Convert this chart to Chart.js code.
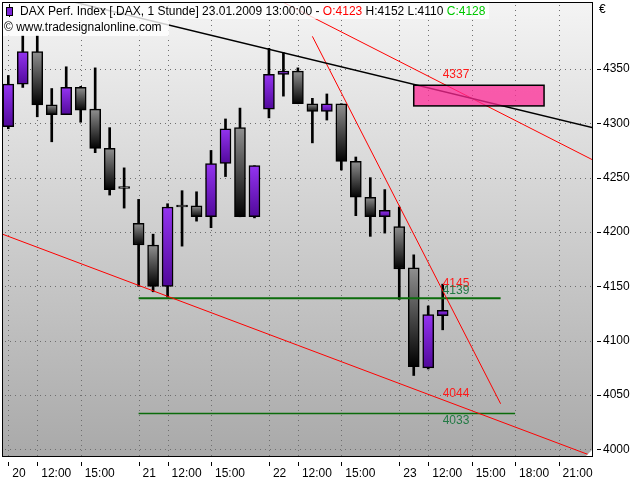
<!DOCTYPE html>
<html><head><meta charset="utf-8">
<script src="https://cdn.jsdelivr.net/npm/chart.js@4/dist/chart.umd.min.js"></script>
<style>html,body{margin:0;padding:0;background:#fff}#wrap{width:640px;height:480px}</style>
</head><body><div id="wrap"><canvas id="c" width="640" height="480"></canvas></div>
<script>
// ---- data ----
const candleIndex = [0,1,2,3,4,5,6,7,8,9,10,11,12,13,14,15,16,17,18,19,20,21,22,23,24,25,26,27,28,29,30];
const openVals  = [4297,4336,4366,4317,4308,4333,4313,4277,4240,4208,4188,4150,4223,4224,4214,4263,4296,4214,4313,4345,4348,4318,4311,4318,4265,4232,4214,4205,4167,4075,4123];
const highVals  = [4344,4381,4381,4332,4352,4334,4351,4296,4259,4230,4198,4226,4238,4237,4275,4304,4314,4261,4369,4365,4351,4323,4327,4318,4269,4250,4239,4223,4179,4132,4152];
const lowVals   = [4295,4333,4306,4283,4308,4301,4273,4234,4222,4150,4145,4140,4187,4210,4204,4251,4214,4213,4305,4325,4318,4282,4303,4257,4215,4196,4199,4138,4068,4074,4110];
const closeVals = [4336,4366,4317,4308,4333,4312,4277,4239,4240,4188,4150,4223,4223,4214,4263,4295,4214,4261,4345,4348,4318,4311,4318,4265,4232,4214,4220,4166,4076,4124,4128];

const timeTickIndex  = [0,2,5,9,11,14,18,20,23,27,29,32,35,38];
const timeTickLabels = ['20','12:00','15:00','21','12:00','15:00','22','12:00','15:00','23','12:00','15:00','18:00','21:00'];
const priceTicks = [4000,4050,4100,4150,4200,4250,4300,4350];

const blackTrendX = [2, 41];      const blackTrendY = [4419.7, 4294];
const steepRedX   = [21, 34];     const steepRedY   = [4380, 4042];
const upperRedX   = [18, 41];     const upperRedY   = [4418, 4262];
const lowerRedX   = [-0.5, 40.5]; const lowerRedY   = [4198.5, 3993];
const greenHighX  = [9, 34];      const greenHighY  = [4139, 4139];
const greenLowX   = [9, 35];      const greenLowY   = [4033, 4033];

const zoneX = [28, 37];  const zoneY = [4316, 4335];

const levelLabelX = 30;
const levelLabelValues = [4145, 4139, 4044, 4033, 4337];

const headerMain = 'DAX Perf. Index [.DAX, 1 Stunde] 23.01.2009 13:00:00 - ';
const headerO = 'O:4123', headerHL = ' H:4152 L:4110 ', headerC = 'C:4128';
const copyright = '\u00A9 www.tradesignalonline.com';

// ---- styles ----
const FONT = '"Liberation Sans", Arial, sans-serif';
const levelLabelStyle = [
  {color:'#ff1a1a', place:'above'},
  {color:'#237a45', place:'above'},
  {color:'#ff1a1a', place:'above'},
  {color:'#237a45', place:'below'},
  {color:'#ff1a1a', place:'above'}
];

function pts(xs, ys){ return xs.map((x,i)=>({x:x, y:ys[i]})); }

function bodyFill(c){
  if (c.type !== 'data') return '#888';
  const chart = c.chart, i = c.dataIndex, y = chart.scales.y;
  if (!y) return '#888';
  const o = openVals[i], cl = closeVals[i];
  const top = y.getPixelForValue(Math.max(o,cl)), bot = y.getPixelForValue(Math.min(o,cl));
  if (!isFinite(top) || !isFinite(bot)) return '#888';
  const g = chart.ctx.createLinearGradient(0, top, 0, bot + 0.5);
  if (cl > o) { g.addColorStop(0,'#9434f0'); g.addColorStop(1,'#50089a'); }
  else { g.addColorStop(0,'#909090'); g.addColorStop(1,'#000000'); }
  return g;
}

const decor = {
  id: 'decor',
  beforeDraw(chart){
    const ctx = chart.ctx, a = chart.chartArea;
    ctx.save();
    ctx.fillStyle = '#fff';
    ctx.fillRect(0,0,chart.width,chart.height);
    const g = ctx.createLinearGradient(0,a.top,0,a.bottom);
    g.addColorStop(0,'#f4f4f4'); g.addColorStop(1,'#a9a9a9');
    ctx.fillStyle = g;
    ctx.fillRect(a.left,a.top,a.right-a.left,a.bottom-a.top);
    ctx.restore();
  },
  beforeDatasetsDraw(chart){
    // dotted grid drawn at the scales' own tick positions
    const ctx = chart.ctx, a = chart.chartArea, xs = chart.scales.x, ys = chart.scales.y;
    ctx.save();
    ctx.fillStyle = '#6e6e6e';
    xs.ticks.forEach(t=>{
      const px = Math.round(xs.getPixelForValue(t.value));
      for (let y = a.top + 3; y < a.bottom - 1; y += 5) ctx.fillRect(px, y, 1, 1);
    });
    ys.ticks.forEach(t=>{
      const py = Math.round(ys.getPixelForValue(t.value));
      for (let x = a.left + 3; x < a.right - 1; x += 5) ctx.fillRect(x, py, 1, 1);
    });
    ctx.restore();
  },
  afterDatasetsDraw(chart){
    const ctx = chart.ctx, a = chart.chartArea, xs = chart.scales.x, ys = chart.scales.y;
    ctx.save();
    // zone box
    const x0 = xs.getPixelForValue(zoneX[0]), x1 = xs.getPixelForValue(zoneX[1]);
    const y0 = ys.getPixelForValue(zoneY[1]), y1 = ys.getPixelForValue(zoneY[0]);
    ctx.fillStyle = 'rgba(255,40,150,0.74)';
    ctx.fillRect(x0,y0,x1-x0,y1-y0);
    ctx.strokeStyle = '#000'; ctx.lineWidth = 1.5;
    ctx.strokeRect(x0,y0,x1-x0,y1-y0);
    // level labels
    ctx.font = '12px ' + FONT;
    ctx.textAlign = 'left';
    levelLabelValues.forEach((v,i)=>{
      const st = levelLabelStyle[i];
      const px = xs.getPixelForValue(levelLabelX), py = ys.getPixelForValue(v);
      ctx.fillStyle = st.color;
      if (st.place === 'above') { ctx.textBaseline = 'bottom'; ctx.fillText(String(v), px, py - 2); }
      else { ctx.textBaseline = 'top'; ctx.fillText(String(v), px, py + 1); }
    });
    // header boxes
    ctx.fillStyle = 'rgba(255,255,255,0.8)';
    ctx.fillRect(a.left+1, a.top+1, 488-a.left, 16);
    ctx.fillRect(a.left+1, a.top+17, 168-a.left, 17);
    // icon
    ctx.strokeStyle = '#000'; ctx.lineWidth = 1;
    ctx.beginPath(); ctx.moveTo(9.5,4); ctx.lineTo(9.5,17); ctx.stroke();
    ctx.fillStyle = '#7a22d8'; ctx.fillRect(6.5,7.5,6,8); ctx.strokeRect(6.5,7.5,6,8);
    // header text
    ctx.font = '12px ' + FONT; ctx.textBaseline = 'alphabetic';
    let tx = 20;
    const seg = (t,c)=>{ ctx.fillStyle = c; ctx.fillText(t, tx, 14.5); tx += ctx.measureText(t).width; };
    seg(headerMain,'#000'); seg(headerO,'#ff0000'); seg(headerHL,'#000'); seg(headerC,'#00c800');
    ctx.fillStyle = '#000';
    ctx.fillText(copyright, 4, 31);
    // frame
    ctx.strokeStyle = '#000'; ctx.lineWidth = 1;
    ctx.strokeRect(a.left+0.5, a.top+0.5, a.right-a.left-1, a.bottom-a.top-1);
    // tick marks
    ctx.beginPath();
    priceTicks.forEach(v=>{ const py = Math.round(ys.getPixelForValue(v))+0.5; ctx.moveTo(a.right+4,py); ctx.lineTo(a.right+8,py); });
    timeTickIndex.forEach(v=>{ const px = Math.round(xs.getPixelForValue(v))+0.5; ctx.moveTo(px,a.bottom+5); ctx.lineTo(px,a.bottom+9); });
    ctx.stroke();
    // euro sign
    ctx.fillStyle = '#000'; ctx.textBaseline = 'middle';
    ctx.fillText('\u20AC', a.right+6, 10);
    // resize grip
    ctx.fillStyle = '#fff';
    ctx.beginPath(); ctx.moveTo(a.right-1,a.bottom-7); ctx.lineTo(a.right-1,a.bottom-1); ctx.lineTo(a.right-7,a.bottom-1); ctx.closePath(); ctx.fill();
    ctx.restore();
  }
};

const gridOpts = {display:false, drawTicks:false, offset:false};
const borderOpts = {display:false};
function zeroPad(s){ s.paddingTop = 0; s.paddingBottom = 0; s.paddingLeft = 0; s.paddingRight = 0; }

new Chart(document.getElementById('c'), {
  type: 'bar',
  data: { datasets: [
    {type:'line', data: pts(blackTrendX, blackTrendY), borderColor:'#000', borderWidth:1.5, pointRadius:0, clip:0, order:1},
    {type:'line', data: pts(steepRedX, steepRedY), borderColor:'#ff0000', borderWidth:1, pointRadius:0, clip:0, order:1},
    {type:'line', data: pts(upperRedX, upperRedY), borderColor:'#ff0000', borderWidth:1, pointRadius:0, clip:0, order:1},
    {type:'line', data: pts(lowerRedX, lowerRedY), borderColor:'#ff0000', borderWidth:1, pointRadius:0, clip:0, order:1},
    {type:'line', data: pts(greenHighX, greenHighY), borderColor:'#0b6b0b', borderWidth:2, pointRadius:0, clip:0, order:1},
    {type:'line', data: pts(greenLowX, greenLowY), borderColor:'#0b6b0b', borderWidth:1.5, pointRadius:0, clip:0, order:1},
    {type:'bar', data: candleIndex.map((x,i)=>({x:x, y:[lowVals[i], highVals[i]]})), backgroundColor:'#000', barThickness:2, grouped:false, order:3},
    {type:'bar', data: candleIndex.map((x,i)=>({x:x, y:[openVals[i], closeVals[i]]})), backgroundColor: bodyFill, borderColor:'#000', borderWidth:1.5, borderSkipped:false, barThickness:11, minBarLength:2, grouped:false, order:2}
  ]},
  options: {
    responsive:false, animation:false, devicePixelRatio:1,
    layout:{padding:{left:2, top:2, right:0, bottom:0}},
    plugins:{legend:{display:false}, tooltip:{enabled:false}},
    scales:{
      x:{type:'linear', min:-0.435, max:40.38, offset:false,
        afterBuildTicks:s=>{ s.ticks = timeTickIndex.map(v=>({value:v})); },
        afterFit:s=>{ s.height = 23; zeroPad(s); },
        grid:gridOpts, border:borderOpts,
        ticks:{autoSkip:false, maxRotation:0, minRotation:0, align:'start', labelOffset:4, padding:9, color:'#000', font:{family:FONT, size:12},
          callback:(v)=>{ const k = timeTickIndex.indexOf(v); return k>=0 ? timeTickLabels[k] : ''; }}
      },
      y:{type:'linear', position:'right', min:3993, max:4411.6,
        afterBuildTicks:s=>{ s.ticks = priceTicks.map(v=>({value:v})); },
        afterFit:s=>{ s.width = 47; zeroPad(s); },
        grid:gridOpts, border:borderOpts,
        ticks:{padding:10, color:'#000', font:{family:FONT, size:12}, callback:(v)=>String(v)}
      }
    }
  },
  plugins:[decor]
});
</script></body></html>
